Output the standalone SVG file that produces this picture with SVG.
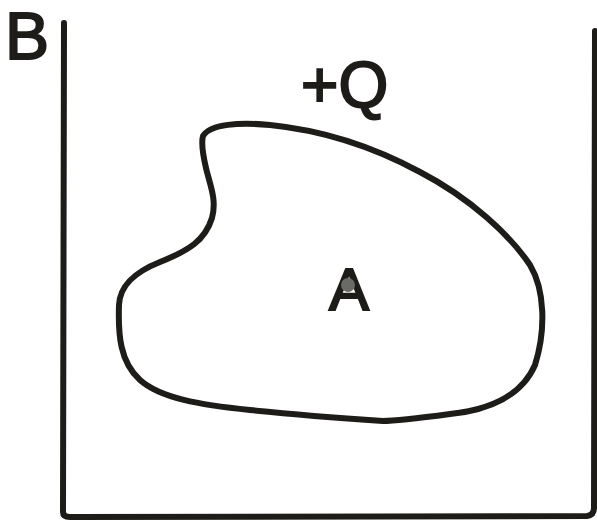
<svg xmlns="http://www.w3.org/2000/svg" width="597" height="525" viewBox="0 0 597 525">
<style>
.ln{fill:none;stroke:#1e1c18;stroke-width:6;stroke-linecap:round;stroke-linejoin:round}
.lbl{font-family:"Liberation Sans",Arial,sans-serif;fill:#1e1c18;stroke:#1e1c18;stroke-width:2}
</style>
<rect width="597" height="525" fill="#fff"/>
<g id="frame">
<path class="ln" d="M64,23 L63,512 Q63,517 70,517 L587,516 Q594,515 594,508 L595,31"/>
</g>
<g id="region">
<path class="ln" stroke-width="6.5" d="M203,136 C210,124 240,122 270,125 C320,130 370,145 420,172 C470,198 510,235 530,265 C545,290 546,330 535,365 C522,395 490,410 450,414 C420,418 395,421 383,421 C340,418 290,414 250,410 C200,405 160,398 140,380 C120,362 118,335 119,305 C120,285 135,272 160,262 C190,250 205,240 212,218 C217,200 210,185 206,168 C203,155 201,143 203,136 Z"/>
</g>
<g id="label-B"><text class="lbl" x="5" y="59" font-size="66">B</text></g>
<g id="label-Q"><text class="lbl" x="301" y="107" font-size="64">+Q</text></g>
<g id="point-A">
<text class="lbl" x="329" y="310" font-size="60">A</text>
<circle cx="348" cy="285" r="7" fill="#6a6a66"/>
</g>
</svg>
